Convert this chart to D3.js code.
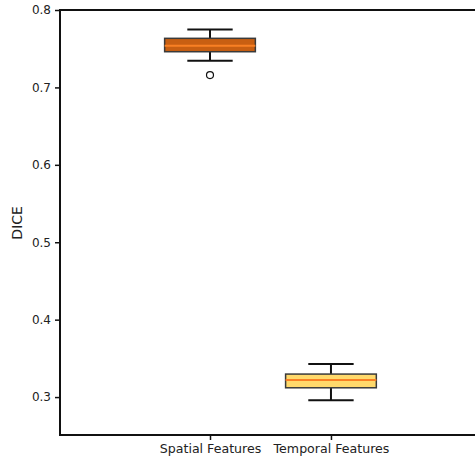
<!DOCTYPE html>
<html>
<head>
<meta charset="utf-8">
<script src="https://cdn.jsdelivr.net/npm/d3@7"></script>
<style>
  body { margin: 0; background: #fff; }
  svg { font-family: "DejaVu Sans", sans-serif; }
</style>
</head>
<body>
<div class="container"></div>
<script>
(function() {
  // chart data
  var categories = ['Spatial Features', 'Temporal Features'];
  var whiskerLow = [0.7345, 0.296];
  var q1 = [0.7461, 0.312];
  var medians = [0.7539, 0.322];
  var q3 = [0.7634, 0.3297];
  var whiskerHigh = [0.7748, 0.3426];
  var outliers = [[0.716], []];
  var yTicks = [0.3, 0.4, 0.5, 0.6, 0.7, 0.8];
  var fills = ['#c85f12', '#ffd96b'];
  var medianColors = ['#f98024', '#f98024'];

  var opts = { width: 475, height: 461, left: 60, top: 10, bottom: 435 };
  var font = '"DejaVu Sans", sans-serif';

  var svg = d3.select('div.container').append('svg')
    .attr('width', opts.width).attr('height', opts.height);

  var y = d3.scaleLinear().domain([0.251, 0.8]).range([opts.bottom, opts.top]);
  // positions 1 and 2, plot runs off the right edge
  var x = d3.scaleLinear().domain([-0.24, 1]).range([opts.left, 210]);
  var pos = [1, 2];
  var boxW = 0.75 * (x(2) - x(1));
  var capW = boxW / 2;

  // axes
  var yAxis = d3.axisLeft(y).tickValues(yTicks).tickFormat(d3.format('.1f')).tickSize(5).tickPadding(4);
  var gy = svg.append('g').attr('transform', 'translate(' + opts.left + ',0)').call(yAxis)
    .attr('font-family', font).attr('font-size', 12);
  gy.select('.domain').remove();
  gy.selectAll('line').attr('stroke', '#111').attr('stroke-width', 1.5);
  gy.selectAll('text').attr('fill', '#222');

  var xAxis = d3.axisBottom(x).tickValues(pos).tickFormat(function(d, i) { return categories[i]; }).tickSize(5).tickPadding(4);
  var gx = svg.append('g').attr('transform', 'translate(0,' + opts.bottom + ')').call(xAxis)
    .attr('font-family', font).attr('font-size', 12.6);
  gx.select('.domain').remove();
  gx.selectAll('line').attr('stroke', '#111').attr('stroke-width', 1.5);
  gx.selectAll('text').attr('fill', '#222');

  // spines
  svg.append('line').attr('x1', opts.left).attr('x2', opts.left).attr('y1', opts.top).attr('y2', opts.bottom)
    .attr('stroke', '#111').attr('stroke-width', 2);
  svg.append('line').attr('x1', opts.left - 1).attr('x2', opts.width).attr('y1', opts.bottom).attr('y2', opts.bottom)
    .attr('stroke', '#111').attr('stroke-width', 2);
  svg.append('line').attr('x1', opts.left - 1).attr('x2', opts.width).attr('y1', opts.top).attr('y2', opts.top)
    .attr('stroke', '#111').attr('stroke-width', 2);

  svg.append('text')
    .attr('transform', 'translate(22,' + y(0.525) + ') rotate(-90)')
    .attr('text-anchor', 'middle').attr('font-size', 14).attr('fill', '#222')
    .text('DICE');

  // boxes
  var boxes = svg.selectAll('g.box').data(categories).enter().append('g').attr('class', 'box');

  boxes.each(function(d, i) {
    var g = d3.select(this);
    var cx = x(pos[i]);
    // whiskers
    g.append('line').attr('x1', cx).attr('x2', cx).attr('y1', y(q3[i])).attr('y2', y(whiskerHigh[i]))
      .attr('stroke', '#111').attr('stroke-width', 2);
    g.append('line').attr('x1', cx).attr('x2', cx).attr('y1', y(q1[i])).attr('y2', y(whiskerLow[i]))
      .attr('stroke', '#111').attr('stroke-width', 2);
    g.append('line').attr('x1', cx - capW / 2).attr('x2', cx + capW / 2).attr('y1', y(whiskerHigh[i])).attr('y2', y(whiskerHigh[i]))
      .attr('stroke', '#111').attr('stroke-width', 2);
    g.append('line').attr('x1', cx - capW / 2).attr('x2', cx + capW / 2).attr('y1', y(whiskerLow[i])).attr('y2', y(whiskerLow[i]))
      .attr('stroke', '#111').attr('stroke-width', 2);
    // box
    g.append('rect').attr('x', cx - boxW / 2).attr('width', boxW)
      .attr('y', y(q3[i])).attr('height', y(q1[i]) - y(q3[i]))
      .attr('fill', fills[i]).attr('stroke', '#3a3a3a').attr('stroke-width', 1.5);
    // median
    g.append('line').attr('x1', cx - boxW / 2).attr('x2', cx + boxW / 2).attr('y1', y(medians[i])).attr('y2', y(medians[i]))
      .attr('stroke', medianColors[i]).attr('stroke-width', 2);
    // fliers
    g.selectAll('circle').data(outliers[i]).enter().append('circle')
      .attr('cx', cx).attr('cy', function(v) { return y(v); }).attr('r', 3.5)
      .attr('fill', 'none').attr('stroke', '#111').attr('stroke-width', 1.2);
  });
}).call(this);
</script>
</body>
</html>
